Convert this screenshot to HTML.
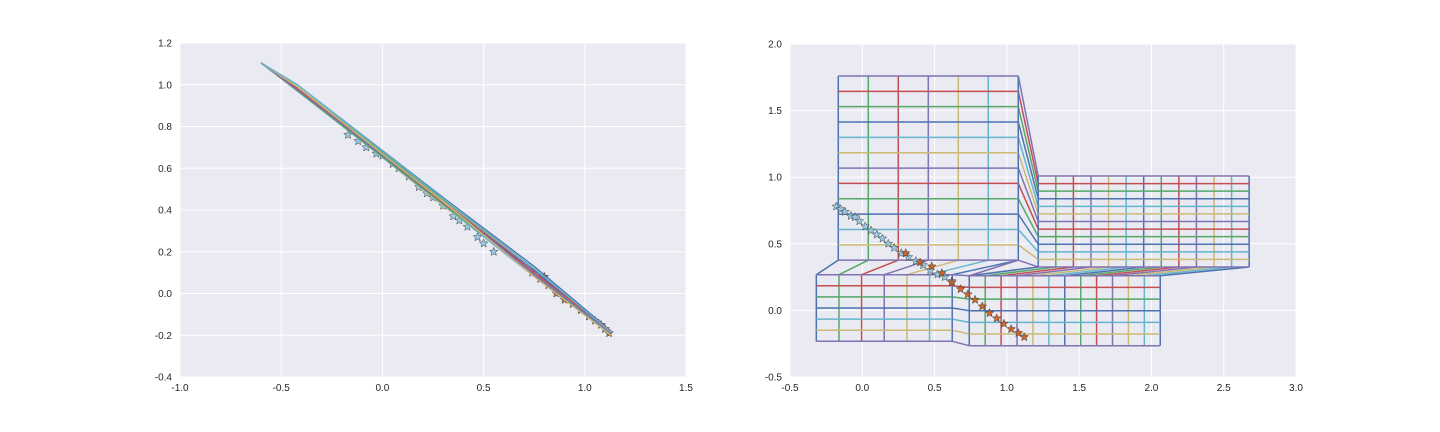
<!DOCTYPE html>
<html><head><meta charset="utf-8"><style>
body{margin:0;background:#fff;}
svg{display:block;font-family:"Liberation Sans",sans-serif;}
</style></head><body>
<svg id="fig" width="1440" height="432">
<g id="left"></g>
<g id="right"></g>
</svg>
<script>
const PAL=['#4C72B0','#55A868','#C44E52','#8172B2','#CCB974','#64B5CD'];
// Left chart data
const leftXTicks=[-1.0,-0.5,0.0,0.5,1.0,1.5];
const leftYTicks=[-0.4,-0.2,0.0,0.2,0.4,0.6,0.8,1.0,1.2];
const leftLineX=[-0.6,-0.42,0.3,0.75,1.13];
const leftLinesY=[
[1.105,1.0,0.46,0.13,-0.18],
[1.105,0.99,0.45,0.12,-0.19],
[1.105,0.985,0.44,0.11,-0.19],
[1.105,0.98,0.43,0.10,-0.2],
[1.105,0.975,0.42,0.09,-0.19],
[1.105,0.97,0.425,0.08,-0.2],
[1.105,0.975,0.43,0.11,-0.19],
[1.105,0.97,0.43,0.09,-0.2],
[1.105,0.98,0.435,0.10,-0.18],
[1.105,0.975,0.44,0.09,-0.19],
[1.105,0.99,0.44,0.08,-0.2],
[1.105,1.0,0.455,0.12,-0.185]
];
const leftBlueX=[-0.17,-0.12,-0.08,-0.03,0.0,0.05,0.08,0.13,0.18,0.22,0.25,0.3,0.35,0.38,0.42,0.47,0.5,0.55];
const leftBlueY=[0.76,0.73,0.7,0.67,0.66,0.62,0.6,0.56,0.51,0.48,0.46,0.42,0.37,0.35,0.32,0.27,0.24,0.2];
const leftBrownX=[0.74,0.78,0.8,0.82,0.86,0.9,0.94,0.98,1.02,1.05,1.08,1.1,1.12];
const leftBrownY=[0.1,0.07,0.08,0.04,0.0,-0.03,-0.05,-0.08,-0.11,-0.13,-0.15,-0.17,-0.19];
// Right chart data
const rightXTicks=[-0.5,0.0,0.5,1.0,1.5,2.0,2.5,3.0];
const rightYTicks=[-0.5,0.0,0.5,1.0,1.5,2.0];
const blockA=[-0.166,1.079,0.377,1.76,7,13];
const blockB=[1.217,2.676,0.326,1.009,13,13];
const blockC=[-0.318,0.622,-0.232,0.268,7,7];
const blockD=[0.74,2.061,-0.265,0.26,13,7];
const rightBlueX=[-0.18,-0.15,-0.12,-0.08,-0.05,-0.02,0.02,0.06,0.1,0.14,0.18,0.22,0.27,0.32,0.37,0.42,0.47,0.52,0.57,0.62];
const rightBlueY=[0.78,0.76,0.74,0.71,0.7,0.67,0.63,0.6,0.57,0.54,0.5,0.47,0.43,0.4,0.37,0.34,0.3,0.27,0.25,0.22];
const rightBrownX=[0.3,0.4,0.48,0.55,0.62,0.68,0.73,0.78,0.83,0.88,0.93,0.98,1.03,1.08,1.12];
const rightBrownY=[0.43,0.36,0.33,0.28,0.21,0.16,0.12,0.08,0.03,-0.02,-0.06,-0.1,-0.14,-0.17,-0.2];

const NS='http://www.w3.org/2000/svg';
function mk(p,t,a){const e=document.createElementNS(NS,t);for(const k in a)e.setAttribute(k,a[k]);p.appendChild(e);return e;}
function axes(g,L,T,W,H,xmin,xmax,ymin,ymax,xt,yt){
  const sx=v=>L+(v-xmin)/(xmax-xmin)*W, sy=v=>T+H-(v-ymin)/(ymax-ymin)*H;
  const bg=mk(g,'rect',{x:L,y:T,width:W,height:H,fill:'#EAEAF2'});
  
  
  xt.forEach(v=>{const l=mk(g,'line',{x1:sx(v),x2:sx(v),y1:T,y2:T+H,stroke:'#fff','stroke-width':1});
    
    const t=mk(g,'text',{x:sx(v),y:T+H+14,'text-anchor':'middle','font-size':10,fill:'#262626'});t.textContent=v.toFixed(1);
    });
  yt.forEach(v=>{const l=mk(g,'line',{x1:L,x2:L+W,y1:sy(v),y2:sy(v),stroke:'#fff','stroke-width':1});
    
    const t=mk(g,'text',{x:L-8,y:sy(v)+3.5,'text-anchor':'end','font-size':10,fill:'#262626'});t.textContent=v.toFixed(1);
    });
  return [sx,sy];
}
function starPts(cx,cy,r){let p=[];for(let i=0;i<10;i++){const a=-Math.PI/2+i*Math.PI/5,rr=i%2?r*0.45:r;p.push((cx+rr*Math.cos(a)).toFixed(1)+','+(cy+rr*Math.sin(a)).toFixed(1));}return p.join(' ');}
function stars(g,sx,sy,xs,ys,fill,name){xs.forEach((x,i)=>{const s=mk(g,'polygon',{points:starPts(sx(x),sy(ys[i]),4.5),fill:fill,stroke:'#444','stroke-width':0.5,'fill-opacity':0.9});
  });}

// LEFT
(function(){
  const g=document.getElementById('left');
  const [sx,sy]=axes(g,180,43,506,334,-1.0,1.5,-0.4,1.2,leftXTicks,leftYTicks);
  stars(g,sx,sy,leftBlueX,leftBlueY,'#8EC3E0','star-class-a');
  stars(g,sx,sy,leftBrownX,leftBrownY,'#C8581A','star-class-b');
  leftLinesY.forEach((ys,k)=>{const pts=leftLineX.map((x,i)=>sx(x)+','+sy(ys[i])).join(' ');
    const p=mk(g,'polyline',{points:pts,fill:'none',stroke:PAL[k%6],'stroke-width':1.3});
    });
})();

// RIGHT
(function(){
  const g=document.getElementById('right');
  const [sx,sy]=axes(g,790,44,506,333,-0.5,3.0,-0.5,2.0,rightXTicks,rightYTicks);
  const W=1.5;
  function ln(x1,y1,x2,y2,c){const l=mk(g,'line',{x1:sx(x1),y1:sy(y1),x2:sx(x2),y2:sy(y2),stroke:c,'stroke-width':W});
    }
  function vx(b,i){return b[0]+(b[1]-b[0])*i/(b[4]-1);}
  function hy(b,j){return b[2]+(b[3]-b[2])*j/(b[5]-1);}
  function block(b){
    for(let i=0;i<b[4];i++)ln(vx(b,i),b[2],vx(b,i),b[3],PAL[i%6]);
    for(let j=0;j<b[5];j++)ln(b[0],hy(b,j),b[1],hy(b,j),PAL[(j+3)%6]);
  }
  for(let j=0;j<13;j++)ln(blockA[1],hy(blockA,j),blockB[0],hy(blockB,j),PAL[(j+3)%6]);
  for(let i=0;i<7;i++)ln(vx(blockA,i),blockA[2],vx(blockC,i),blockC[3],PAL[i%6]);
  for(let i=0;i<13;i++)ln(vx(blockB,i),blockB[2],vx(blockD,i),blockD[3],PAL[i%6]);
  for(let j=0;j<7;j++)ln(blockC[1],hy(blockC,j),blockD[0],hy(blockD,j),PAL[(j+3)%6]);
  ln(blockA[1],blockA[2],blockD[0],blockD[3],PAL[3]);
  [blockA,blockB,blockC,blockD].forEach(block);
  stars(g,sx,sy,rightBlueX,rightBlueY,'#8EC3E0','star-class-a');
  stars(g,sx,sy,rightBrownX,rightBrownY,'#C8581A','star-class-b');
})();
</script>
</body></html>
